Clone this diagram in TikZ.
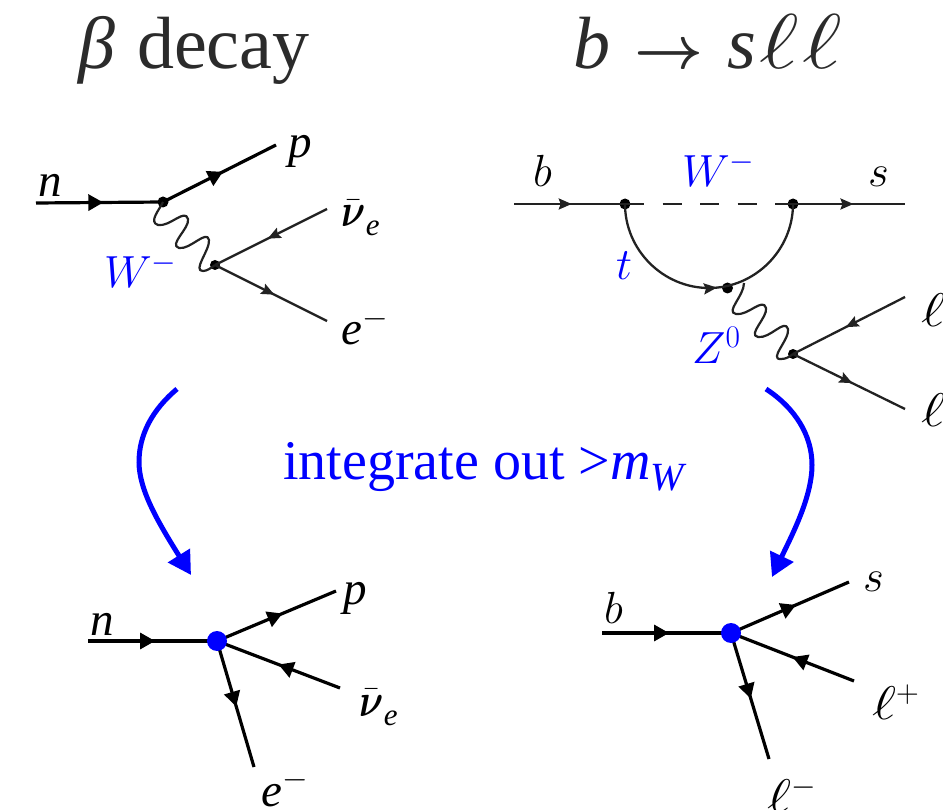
\RequirePackage{fix-cm}
\documentclass[tikz,border=0pt]{standalone}
\usepackage{amsmath}
\usepackage{graphicx}
\usepackage{fontspec}
\setmainfont{Liberation Serif}
\usetikzlibrary{arrows.meta,decorations.markings}
\definecolor{ink}{HTML}{222222}
\definecolor{titleink}{HTML}{2B2B2B}
\definecolor{pureblue}{RGB}{0,0,255}
\newcommand{\fsz}[1]{\fontsize{#1}{#1}\selectfont}
\newcommand{\nubar}{\scalebox{0.8}[1]{$\bar{\boldsymbol{\nu}}$}\kern0.5pt\raisebox{-9pt}{\fsz{31}\textit{e}}}
\newcommand{\wideell}{\scalebox{1.3}[1.05]{$\ell$}}
\pgfdeclarelayer{front}
\pgfsetlayers{main,front}
\tikzset{
  x=1pt,y=-1pt,
  lab/.style={inner sep=0pt,anchor=base west,text=black},
  blab/.style={lab,text=pureblue},
  vtx/.style={circle,fill=black,inner sep=0pt,minimum size=11pt},
  effvtx/.style={circle,fill=pureblue,inner sep=0pt,minimum size=20pt},
  heavy/.style={line width=3.2pt,black,postaction={decorate},decoration={markings,mark=at position #1 with {\arrow[black]{Triangle[length=15pt,width=16pt]}}}},
  light/.style={line width=2.3pt,ink,postaction={decorate},decoration={markings,mark=at position #1 with {\arrow[ink]{Stealth[length=13pt,width=11pt,inset=2pt]}}}},
  boson/.style={line width=2.2pt,ink,line join=round},
  flow/.style={line width=5pt,pureblue,-{Triangle[length=23pt,width=25pt]}},
}
\begin{document}
\begin{tikzpicture}
\useasboundingbox (0,0) rectangle (943,810);
% titles
\node[lab,text=titleink,font=\fsz{74}] (t1) at (78,69) {\textit{β}\hspace{22pt}decay};
\node[lab,text=titleink,font=\fsz{74}] (t2) at (573,69) {\textit{b}\hspace{24pt}{\fsz{60}$\boldsymbol{\rightarrow}$}\hspace{24pt}\textit{s}\hspace{3pt}\wideell\hspace{4pt}\wideell};
% beta decay, full
\coordinate (n0) at (36,203);
\coordinate (p0) at (276,145);
\coordinate (nu0) at (327,209);
\coordinate (e0) at (327,321);
\node[vtx] (v1) at (163,202) {};
\node[vtx,minimum size=10pt] (v2) at (215,265) {};
\draw[heavy=.53] (n0) -- (v1.center);
\draw[heavy=.53] (v1.center) -- (p0);
\draw[light=.53] (nu0) -- (v2.center);
\draw[light=.53] (v2.center) -- (e0);
\draw[boson] (v1.center) .. controls (160,209) and (148,222) .. (158,225)
  .. controls (170,227) and (185,208) .. (188,219)
  .. controls (190,228) and (168,245) .. (179,248)
  .. controls (190,250) and (207,229) .. (209,240)
  .. controls (210,250) and (192,271) .. (203,271)
  .. controls (207,271) and (211,268) .. (v2.center);
\node[lab,font=\fsz{47}] (ln) at (38,197) {\textit{n}};
\node[lab,font=\fsz{47}] (lp) at (288,158) {\textit{p}};
\node[lab,font=\fsz{47}] (lnu) at (341,227) {\nubar};
\node[lab,font=\fsz{47}] (le) at (341,345) {\textit{e}$^-$};
\node[blab,font=\fsz{45}] (lw) at (104,288) {$W^-$};
% b -> s ll, full
\coordinate (b0) at (514,204);
\coordinate (s0) at (905,204);
\coordinate (lu0) at (905,297);
\coordinate (ld0) at (905,409);
\node[vtx] (v3) at (625,204) {};
\node[vtx] (v4) at (793,204) {};
\node[vtx] (v5) at (727.5,288) {};
\node[vtx,minimum size=10pt] (v6) at (793,354) {};
\coordinate (zs) at (744,283);
\draw[light=.52] (b0) -- (v3.center);
\draw[light=.54] (v4.center) -- (s0);
\draw[line width=2.3pt,ink,dash pattern=on 19pt off 18.5pt] (v3.center) -- (v4.center);
\draw[light=.53] (v3.center) .. controls (625,250) and (663,288) .. (709,288)
  .. controls (755,288) and (793,250) .. (v4.center);
\draw[light=.53] (lu0) -- (v6.center);
\draw[light=.53] (v6.center) -- (ld0);
\draw[boson] (zs) .. controls (744,296) and (725,312) .. (736,314)
  .. controls (748,316) and (763,297) .. (766,308)
  .. controls (768,317) and (747,335) .. (758,337)
  .. controls (770,339) and (785,318) .. (788,329)
  .. controls (790,339) and (768,360) .. (781,359)
  .. controls (786,359) and (789,357) .. (v6.center);
\node[lab,font=\fsz{45}] (lb) at (533,187) {$b$};
\node[lab,font=\fsz{45}] (ls) at (868,187) {$s$};
\node[blab,font=\fsz{45}] (lw2) at (682,187) {$W^-$};
\node[blab,font=\fsz{45}] (lt) at (616,280) {$t$};
\node[blab,font=\fsz{45}] (lz) at (692,364) {$Z^0$};
\node[lab,font=\fsz{45}] (ll1) at (921,327) {\wideell};
\node[lab,font=\fsz{45}] (ll2) at (921,427) {\wideell};
% flow arrows
\coordinate (fl0) at (177,389);
\coordinate (fl1) at (139,462);
\coordinate (fl2) at (191,575);
\coordinate (fr0) at (766,389);
\coordinate (fr1) at (812,465);
\coordinate (fr2) at (772,577);
\draw[flow] (fl0) .. controls (152,410) and (139,435) .. (fl1) .. controls (139,490) and (158,522) .. (fl2);
\draw[flow] (fr0) .. controls (795,408) and (812,435) .. (fr1) .. controls (812,497) and (792,535) .. (fr2);
\node[blab,font=\fsz{56}] (mid) at (283,479) {integrate out >\textit{m}\raisebox{-11pt}{\fsz{40}\textit{W}}};
% beta decay, effective
\coordinate (n1) at (88,641);
\coordinate (p1) at (336,591);
\coordinate (nu1) at (340,688);
\coordinate (e1) at (254,767);
\begin{pgfonlayer}{front}
\node[effvtx] (c1) at (217,641) {};
\node[effvtx] (c2) at (731,633) {};
\end{pgfonlayer}
\draw[heavy=.52] (n1) -- (c1.center);
\draw[heavy=.55] (c1.center) -- (p1);
\draw[heavy=.50] (nu1) -- (c1.center);
\draw[heavy=.52] (c1.center) -- (e1);
\node[lab,font=\fsz{47}] (ln1) at (90,635) {\textit{n}};
\node[lab,font=\fsz{47}] (lp1) at (343,604) {\textit{p}};
\node[lab,font=\fsz{47}] (lnu1) at (359,716) {\nubar};
\node[lab,font=\fsz{47}] (le1) at (261,806) {\textit{e}$^-$};
% b -> s ll, effective
\coordinate (b1) at (602,633);
\coordinate (s1) at (849,582);
\coordinate (lp2) at (854,681);
\coordinate (lm2) at (769,759);
\draw[heavy=.52] (b1) -- (c2.center);
\draw[heavy=.55] (c2.center) -- (s1);
\draw[heavy=.50] (lp2) -- (c2.center);
\draw[heavy=.52] (c2.center) -- (lm2);
\node[lab,font=\fsz{45}] (lb1) at (604,623) {$b$};
\node[lab,font=\fsz{45}] (ls1) at (863,591) {$s$};
\node[lab,font=\fsz{45}] (llp) at (872,719) {\wideell$^+$};
\node[lab,font=\fsz{45}] (llm) at (767,812) {\wideell$^-$};
\end{tikzpicture}
\end{document}
